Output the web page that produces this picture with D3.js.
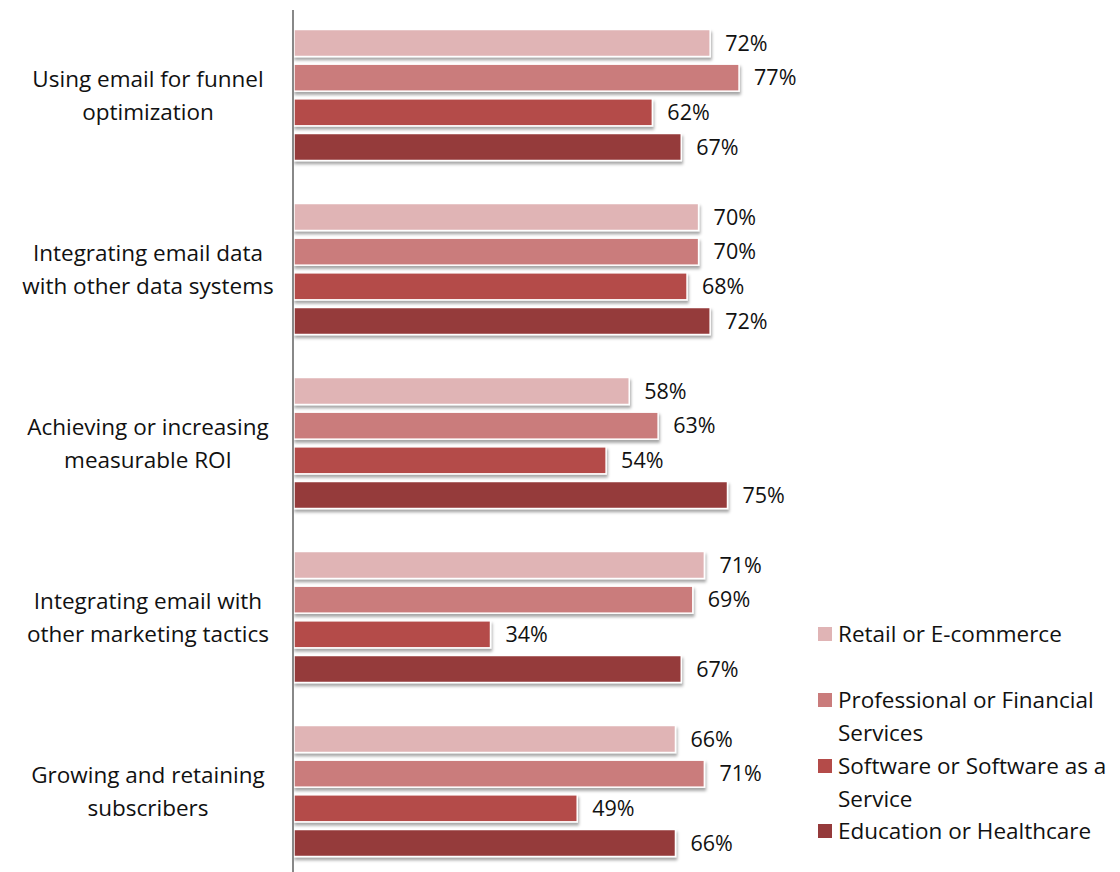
<!DOCTYPE html>
<html><head><meta charset="utf-8">
<script src="https://cdn.jsdelivr.net/npm/d3@7"></script>
<style>body{margin:0;background:#fff}svg{display:block}text{font-family:"Open Sans",sans-serif;fill:#111}</style>
</head><body><svg id="c" width="1120" height="872"></svg>
<script>
const categories = [
  ["Using email for funnel", "optimization"],
  ["Integrating email data", "with other data systems"],
  ["Achieving or increasing", "measurable ROI"],
  ["Integrating email with", "other marketing tactics"],
  ["Growing and retaining", "subscribers"]
];
const seriesNames = ["Retail or E-commerce", "Professional or Financial Services", "Software or Software as a Service", "Education or Healthcare"];
const legendLines = [["Retail or E-commerce"], ["Professional or Financial", "Services"], ["Software or Software as a", "Service"], ["Education or Healthcare"]];
const retail = [72, 70, 58, 71, 66];
const professional = [77, 70, 63, 69, 71];
const software = [62, 68, 54, 34, 49];
const education = [67, 72, 75, 67, 66];
const colors = ["#E0B4B5", "#CA7C7C", "#B44B49", "#953A3B"];

const series = [retail, professional, software, education];
const svg = d3.select("#c");
const defs = svg.append("defs");
const f = defs.append("filter").attr("id","sh").attr("x","-5%").attr("y","-30%").attr("width","110%").attr("height","170%");
f.append("feDropShadow").attr("dx",1).attr("dy",3).attr("stdDeviation",1.6).attr("flood-color","#000").attr("flood-opacity",0.35);

const x = d3.scaleLinear().domain([0,100]).range([294, 872]);
const catIdx = d3.range(categories.length);
const y0 = d3.scaleBand().domain(catIdx).range([8, 878]);
const y1 = d3.scaleBand().domain(d3.range(4)).range([0, y0.bandwidth()]).paddingInner(0.221).paddingOuter(0.62);

catIdx.forEach(ci => {
  const g = svg.append("g").attr("transform", `translate(0,${y0(ci)})`);
  series.forEach((s, si) => {
    g.append("rect").attr("x", x(0)).attr("y", y1(si)).attr("width", x(s[ci]) - x(0)).attr("height", y1.bandwidth())
      .attr("fill", colors[si]).attr("stroke", "#fff").attr("stroke-width", 1.5).attr("filter", "url(#sh)");
    g.append("text").attr("x", x(s[ci]) + 15).attr("y", y1(si) + y1.bandwidth()/2).attr("dy", "0.36em")
      .attr("font-size", 21.5).text(s[ci] + "%");
  });
  const cy = y0(ci) + y0.bandwidth()/2;
  const t = svg.append("text").attr("text-anchor","middle").attr("font-size", 22.5);
  categories[ci].forEach((line, li) => {
    t.append("tspan").attr("x", 148).attr("y", cy - 16.5 + li*33).attr("dy","0.36em").text(line);
  });
});

svg.append("line").attr("x1", 293).attr("x2", 293).attr("y1", 10).attr("y2", 872).attr("stroke", "#888").attr("stroke-width", 2);

const legendY = [634, 700, 766, 831];
legendLines.forEach((lines, i) => {
  svg.append("rect").attr("x", 818).attr("y", legendY[i] - 7).attr("width", 14).attr("height", 14).attr("fill", colors[i]);
  const t = svg.append("text").attr("font-size", 22.5);
  lines.forEach((line, li) => {
    t.append("tspan").attr("x", 838).attr("y", legendY[i] + li*33).attr("dy","0.36em").text(line);
  });
});
</script></body></html>
